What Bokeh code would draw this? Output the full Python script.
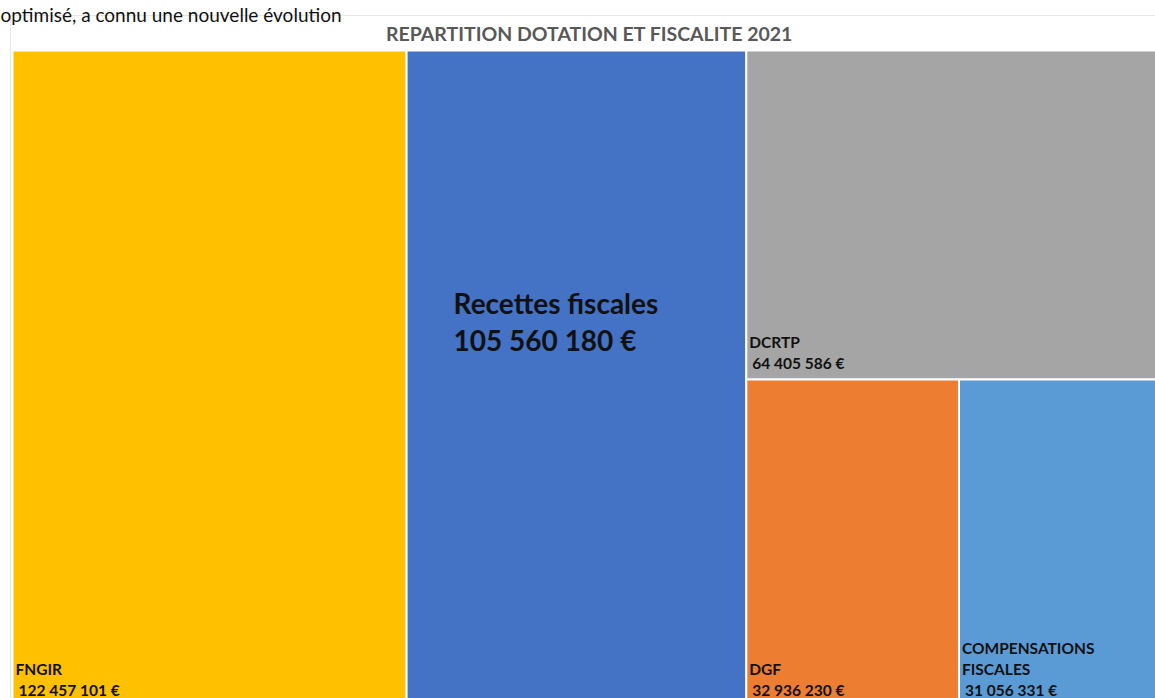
from bokeh.plotting import figure
from bokeh.models import Range1d, ColumnDataSource
from bokeh.core.properties import value
from bokeh.embed import file_html
from bokeh.resources import INLINE

# ---- data ----
categories = ["FNGIR", "Recettes fiscales", "DCRTP", "DGF", "COMPENSATIONS\nFISCALES"]
amounts = [122457101, 105560180, 64405586, 32936230, 31056331]
colors = ["#FFC000", "#4472C4", "#A5A5A5", "#ED7D31", "#5B9BD5"]
title_text = "REPARTITION DOTATION ET FISCALITE 2021"
above_text = "optimisé, a connu une nouvelle évolution"

def fmt(v):
    return f"{v:,}".replace(",", " ") + " €"

# ---- treemap layout (slice computation from values) ----
X0, Y0, W, H = 12.0, 50.0, 1147.0, 656.0
total = float(sum(amounts))
rects = []
x = X0
for v in amounts[:2]:
    w = W * v / total
    rects.append((x, Y0, x + w, Y0 + H))
    x += w
rest = amounts[2:]
rest_total = float(sum(rest))
rx0, rx1 = x, X0 + W
h_top = H * rest[0] / rest_total
rects.append((rx0, Y0, rx1, Y0 + h_top))
bottom_total = float(sum(rest[1:]))
bx = rx0
for v in rest[1:]:
    w = (rx1 - rx0) * v / bottom_total
    rects.append((bx, Y0 + h_top, bx + w, Y0 + H))
    bx += w

p = figure(width=1155, height=698, x_range=Range1d(0, 1155), y_range=Range1d(698, 0),
           output_backend="svg", toolbar_location=None, min_border=0)
p.axis.visible = False
p.grid.visible = False
p.outline_line_color = None
p.background_fill_color = "white"
p.border_fill_color = "white"

# chart frame
p.quad(left=[10], right=[1170], top=[15], bottom=[720], fill_color="white",
       line_color="#E6E6E6", line_width=1)

src = ColumnDataSource(dict(
    left=[r[0] for r in rects], right=[r[2] for r in rects],
    top=[r[1] for r in rects], bottom=[r[3] for r in rects],
    color=colors))
p.quad(left="left", right="right", top="top", bottom="bottom", fill_color="color",
       line_color="white", line_width=2, source=src)

font = value("Lato")

# title
p.text(x=[589], y=[33], text=[title_text], text_font=font, text_font_style="bold",
       text_font_size="19.5px", text_color="#595959", text_align="center",
       text_baseline="middle")

# paragraph text above the chart
p.text(x=[0], y=[14], text=[above_text], text_font=font,
       text_font_size="19px", text_color="#111111", text_align="left",
       text_baseline="alphabetic")

# labels for small boxes: anchored at bottom-left
lx, ly, lt = [], [], []
for i, (cat, amt) in enumerate(zip(categories, amounts)):
    if i == 1:
        continue
    l, t, r, b = rects[i]
    lines = cat.split("\n") + [fmt(amt)]
    n = len(lines)
    for k, line in enumerate(lines):
        lx.append(l + 3 + (3 if k == n - 1 else 0))
        ly.append(b - 17 - 21 * (n - 1 - k))
        lt.append(line)
p.text(x=lx, y=ly, text=lt, text_font=font, text_font_style="bold",
       text_font_size="15.5px", text_color="#111111", text_align="left",
       text_baseline="alphabetic")

# big label for Recettes fiscales
l, t, r, b = rects[1]
p.text(x=[l + 47, l + 47], y=[302, 339], text=[categories[1], fmt(amounts[1])],
       text_font=font, text_font_style="bold", text_font_size="28px",
       text_color="#111111", text_align="left", text_baseline="alphabetic")

open("out.html", "w").write(file_html(p, INLINE))
